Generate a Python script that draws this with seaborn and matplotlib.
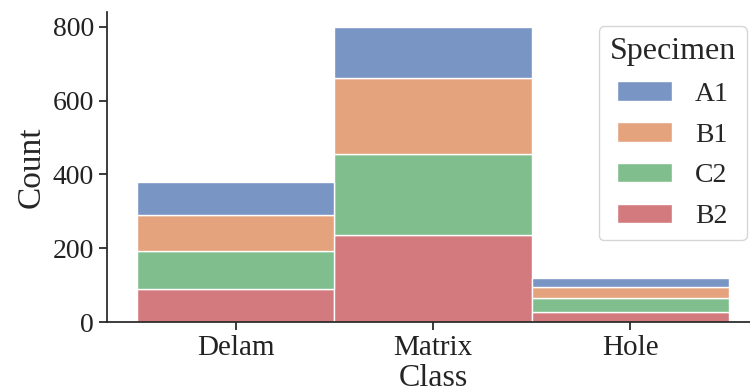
import matplotlib
matplotlib.use("Agg")
import matplotlib.pyplot as plt
import seaborn as sns
import pandas as pd

# Counts per defect class, split by specimen
classes = ["Delam", "Matrix", "Hole"]
specimens = ["A1", "B1", "C2", "B2"]
count_A1 = [90, 140, 25]
count_B1 = [97, 204, 29]
count_C2 = [102, 220, 39]
count_B2 = [91, 236, 26]

rows = []
for spec, counts in zip(specimens, [count_A1, count_B1, count_C2, count_B2]):
    for cls, n in zip(classes, counts):
        rows.append({"Class": cls, "Specimen": spec, "n": n})
df = pd.DataFrame(rows)
df["Class"] = pd.Categorical(df["Class"], categories=classes, ordered=True)

sns.set_theme(style="ticks")
plt.rcParams["font.family"] = ["Liberation Serif", "DejaVu Serif"]

fig, ax = plt.subplots(figsize=(7.5, 3.89), dpi=100)
fig.subplots_adjust(left=0.143, right=1.012, bottom=0.172, top=0.969)

sns.histplot(
    data=df, x="Class", hue="Specimen", weights="n",
    hue_order=specimens, multiple="stack", discrete=True, shrink=1,
    edgecolor="white", linewidth=1, ax=ax,
)
sns.despine(ax=ax)

ax.set_xlabel("Class", fontsize=23, labelpad=2)
ax.set_ylabel("Count", fontsize=24)
ax.tick_params(axis="y", labelsize=20, colors="#222222")
ax.tick_params(axis="x", labelsize=21, colors="#222222")
ax.set_yticks([0, 200, 400, 600, 800])
ax.set_ylim(0, 840)
ax.set_xlim(-0.652, 2.652)

sns.move_legend(ax, "upper right", bbox_to_anchor=(747 / 750, 1 - 26 / 389),
                bbox_transform=fig.transFigure, borderaxespad=0,
                title="Specimen", fontsize=20, title_fontsize=23,
                frameon=True, labelspacing=0.55)

fig.savefig("out.png", dpi=100)
